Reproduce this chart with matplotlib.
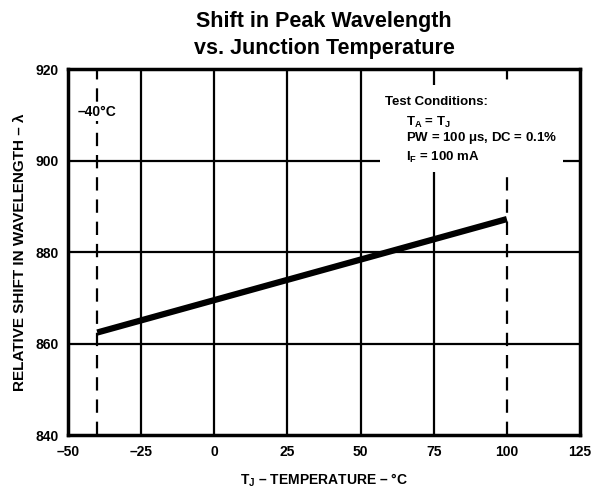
import matplotlib
matplotlib.use("Agg")
import matplotlib.pyplot as plt
from matplotlib.patches import Rectangle

# data
temp_c = [-40, 100]
wavelength = [862.4, 887.2]

x_ticks = [-50, -25, 0, 25, 50, 75, 100, 125]
y_ticks = [840, 860, 880, 900, 920]
x_grid = [-25, 0, 25, 50, 75]
y_grid = [860, 880, 900]
limit_temps = [-40, 100]

plt.rcParams['font.family'] = ['Liberation Sans', 'DejaVu Sans']
plt.rcParams['font.weight'] = 'bold'
plt.rcParams['mathtext.fontset'] = 'custom'
plt.rcParams['mathtext.bf'] = 'Liberation Sans:bold'
plt.rcParams['mathtext.rm'] = 'Liberation Sans:bold'

fig = plt.figure(figsize=(6.05, 4.88), dpi=100)
ax = fig.add_axes([0.1124, 0.1086, 0.8463, 0.750])

ax.set_xlim(-50, 125)
ax.set_ylim(840, 920)

# grid drawn by hand (the 100 degC line is the dashed limit line instead)
for gx in x_grid:
    ax.axvline(gx, color='black', lw=1.6, zorder=1)
for gy in y_grid:
    ax.axhline(gy, color='black', lw=1.6, zorder=1)

# dashed temperature limits
for t in limit_temps:
    ax.axvline(t, color='black', lw=1.6, ls=(0, (6, 4)), zorder=1)

ax.plot(temp_c, wavelength, color='black', lw=4.5, solid_capstyle='butt', zorder=3)

ax.text(-40, 910.7, '\u201340\u00b0C', ha='center', va='center', fontsize=10,
        fontweight='bold', zorder=4,
        bbox=dict(facecolor='white', edgecolor='none', pad=2))

# white area behind the test conditions block
ax.add_patch(Rectangle((56.6, 897.5), 62.6, 19.0, facecolor='white',
                       edgecolor='none', zorder=2))
ax.text(58.3, 912.8, 'Test Conditions:', ha='left', va='center', fontsize=9.5,
        fontweight='bold', zorder=4)
ax.text(65.5, 908.4, 'T$_{\\mathbf{A}}$ = T$_{\\mathbf{J}}$', ha='left',
        va='center', fontsize=9.5, fontweight='bold', zorder=4)
ax.text(65.5, 904.9, 'PW = 100 $\\mathbf{\\mu}$s, DC = 0.1%', ha='left',
        va='center', fontsize=9.5, fontweight='bold', zorder=4)
ax.text(65.5, 900.6, 'I$_{\\mathbf{F}}$ = 100 mA', ha='left', va='center',
        fontsize=9.5, fontweight='bold', zorder=4)

ax.set_xticks(x_ticks)
ax.set_yticks(y_ticks)
ax.set_xticklabels(['\u201350', '\u201325', '0', '25', '50', '75', '100', '125'])
ax.tick_params(length=0, pad=7, labelsize=10)
for lab in ax.get_xticklabels() + ax.get_yticklabels():
    lab.set_fontweight('bold')

for sp in ax.spines.values():
    sp.set_linewidth(2.5)

ax.set_xlabel('T$_{\\mathbf{J}}$ \u2013 TEMPERATURE \u2013 \u00b0C', fontsize=10,
              fontweight='bold', labelpad=9)
ax.set_ylabel('RELATIVE SHIFT IN WAVELENGTH \u2013 \u03bb', fontsize=11,
              fontweight='bold', labelpad=6)

fig.suptitle('Shift in Peak Wavelength\nvs. Junction Temperature', x=0.536, y=0.978,
             fontsize=15.5, fontweight='bold', linespacing=1.4)

fig.savefig('out.png', dpi=100)
